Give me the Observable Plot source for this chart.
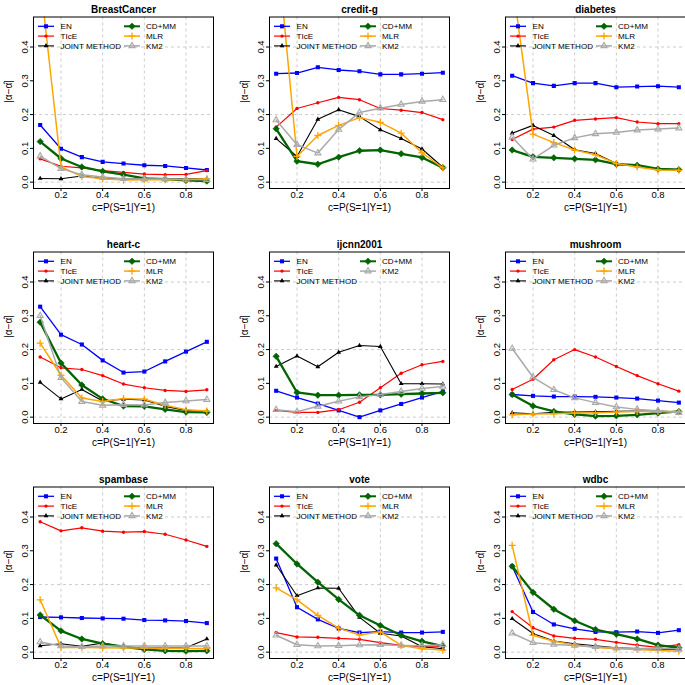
<!DOCTYPE html>
<html><head><meta charset="utf-8">
<script src="https://cdn.jsdelivr.net/npm/d3@7"></script>
<script src="https://cdn.jsdelivr.net/npm/@observablehq/plot@0.6"></script>
<style>
html,body{margin:0;padding:0;background:#fff;}
#chart{position:relative;width:685px;height:685px;overflow:hidden;background:#fff;}
.panel{position:absolute;}
</style></head><body><div id="chart"></div>
<script>
// ---- data ----
const cValues = [0.1, 0.2, 0.3, 0.4, 0.5, 0.6, 0.7, 0.8, 0.9];
const xTicks = [0.2, 0.4, 0.6, 0.8];
const yTicks = [0, 0.1, 0.2, 0.3, 0.4];
const yGrid = [0, 0.2, 0.4];
const xLabel = "c=P(S=1|Y=1)";
const yLabel = "|α−α̂|";
const methods = ["EN", "TIcE", "JOINT METHOD", "CD+MM", "MLR", "KM2"];

const breastCancer = {
  "EN":           [0.169, 0.099, 0.074, 0.060, 0.055, 0.050, 0.048, 0.042, 0.036],
  "TIcE":         [0.069, 0.047, 0.042, 0.034, 0.029, 0.024, 0.022, 0.023, 0.034],
  "JOINT METHOD": [0.011, 0.010, 0.018, 0.011, 0.009, 0.009, 0.009, 0.010, 0.010],
  "CD+MM":        [0.120, 0.070, 0.045, 0.032, 0.022, 0.011, 0.009, 0.005, 0.003],
  "MLR":          [0.600, 0.045, 0.017, 0.010, 0.006, 0.007, 0.007, 0.008, 0.010],
  "KM2":          [0.077, 0.040, 0.022, 0.015, 0.010, 0.009, 0.009, 0.008, 0.007]
};
const creditG = {
  "EN":           [0.321, 0.323, 0.340, 0.332, 0.328, 0.319, 0.319, 0.321, 0.324],
  "TIcE":         [0.163, 0.218, 0.235, 0.251, 0.244, 0.218, 0.213, 0.206, 0.185],
  "JOINT METHOD": [0.129, 0.076, 0.186, 0.214, 0.194, 0.155, 0.129, 0.098, 0.044],
  "CD+MM":        [0.158, 0.062, 0.053, 0.074, 0.093, 0.095, 0.084, 0.073, 0.043],
  "MLR":          [0.725, 0.076, 0.138, 0.168, 0.191, 0.177, 0.145, 0.087, 0.042],
  "KM2":          [0.184, 0.111, 0.086, 0.156, 0.206, 0.219, 0.230, 0.239, 0.244]
};
const diabetes = {
  "EN":           [0.315, 0.293, 0.285, 0.293, 0.293, 0.281, 0.283, 0.284, 0.281],
  "TIcE":         [0.126, 0.157, 0.163, 0.183, 0.187, 0.191, 0.178, 0.173, 0.173],
  "JOINT METHOD": [0.145, 0.168, 0.138, 0.096, 0.085, 0.055, 0.048, 0.039, 0.037],
  "CD+MM":        [0.095, 0.075, 0.072, 0.069, 0.066, 0.053, 0.050, 0.039, 0.037],
  "MLR":          [0.597, 0.142, 0.117, 0.095, 0.081, 0.055, 0.045, 0.036, 0.035],
  "KM2":          [0.133, 0.068, 0.109, 0.131, 0.143, 0.147, 0.154, 0.157, 0.160]
};
const heartC = {
  "EN":           [0.327, 0.244, 0.215, 0.168, 0.132, 0.135, 0.165, 0.194, 0.223],
  "TIcE":         [0.178, 0.146, 0.141, 0.123, 0.098, 0.087, 0.079, 0.076, 0.081],
  "JOINT METHOD": [0.103, 0.054, 0.082, 0.048, 0.053, 0.051, 0.032, 0.020, 0.017],
  "CD+MM":        [0.281, 0.160, 0.095, 0.054, 0.033, 0.032, 0.023, 0.015, 0.014],
  "MLR":          [0.219, 0.124, 0.057, 0.046, 0.055, 0.053, 0.035, 0.022, 0.018],
  "KM2":          [0.300, 0.117, 0.046, 0.035, 0.037, 0.036, 0.043, 0.048, 0.052]
};
const ijcnn2001 = {
  "EN":           [0.078, 0.058, 0.040, 0.020, 0.000, 0.020, 0.039, 0.058, 0.076],
  "TIcE":         [0.020, 0.014, 0.014, 0.022, 0.044, 0.087, 0.130, 0.155, 0.165],
  "JOINT METHOD": [0.150, 0.181, 0.149, 0.192, 0.212, 0.209, 0.099, 0.099, 0.098],
  "CD+MM":        [0.180, 0.073, 0.065, 0.065, 0.066, 0.066, 0.068, 0.070, 0.072],
  "KM2":          [0.022, 0.016, 0.032, 0.047, 0.060, 0.067, 0.076, 0.085, 0.091]
};
const mushroom = {
  "EN":           [0.067, 0.063, 0.061, 0.061, 0.060, 0.058, 0.055, 0.049, 0.043],
  "TIcE":         [0.082, 0.112, 0.170, 0.200, 0.178, 0.150, 0.123, 0.099, 0.077],
  "JOINT METHOD": [0.013, 0.010, 0.014, 0.015, 0.016, 0.017, 0.018, 0.018, 0.016],
  "CD+MM":        [0.067, 0.033, 0.017, 0.008, 0.003, 0.004, 0.007, 0.012, 0.017],
  "MLR":          [0.007, 0.009, 0.010, 0.012, 0.013, 0.015, 0.017, 0.017, 0.016],
  "KM2":          [0.203, 0.118, 0.081, 0.057, 0.043, 0.030, 0.023, 0.019, 0.013]
};
const spambase = {
  "EN":           [0.104, 0.103, 0.101, 0.100, 0.099, 0.095, 0.094, 0.092, 0.086],
  "TIcE":         [0.386, 0.359, 0.368, 0.358, 0.355, 0.357, 0.349, 0.332, 0.313],
  "JOINT METHOD": [0.019, 0.025, 0.017, 0.027, 0.016, 0.012, 0.012, 0.013, 0.039],
  "CD+MM":        [0.110, 0.063, 0.039, 0.025, 0.016, 0.008, 0.004, 0.003, 0.004],
  "MLR":          [0.155, 0.014, 0.014, 0.013, 0.012, 0.012, 0.011, 0.011, 0.011],
  "KM2":          [0.030, 0.018, 0.016, 0.018, 0.018, 0.018, 0.018, 0.018, 0.018]
};
const vote = {
  "EN":           [0.277, 0.133, 0.097, 0.070, 0.058, 0.061, 0.058, 0.058, 0.060],
  "TIcE":         [0.058, 0.045, 0.044, 0.041, 0.038, 0.028, 0.020, 0.016, 0.016],
  "JOINT METHOD": [0.258, 0.167, 0.190, 0.189, 0.103, 0.056, 0.048, 0.016, 0.010],
  "CD+MM":        [0.321, 0.261, 0.207, 0.156, 0.109, 0.079, 0.050, 0.032, 0.018],
  "MLR":          [0.190, 0.155, 0.109, 0.071, 0.051, 0.060, 0.020, 0.010, 0.006],
  "KM2":          [0.050, 0.022, 0.018, 0.019, 0.021, 0.022, 0.020, 0.019, 0.022]
};
const wdbc = {
  "EN":           [0.254, 0.119, 0.082, 0.069, 0.060, 0.059, 0.061, 0.057, 0.065],
  "TIcE":         [0.120, 0.072, 0.048, 0.041, 0.038, 0.029, 0.021, 0.014, 0.022],
  "JOINT METHOD": [0.099, 0.055, 0.033, 0.025, 0.019, 0.013, 0.011, 0.009, 0.008],
  "CD+MM":        [0.254, 0.177, 0.127, 0.093, 0.067, 0.053, 0.039, 0.021, 0.013],
  "MLR":          [0.316, 0.050, 0.032, 0.021, 0.014, 0.010, 0.008, 0.005, 0.003],
  "KM2":          [0.056, 0.028, 0.023, 0.020, 0.016, 0.012, 0.011, 0.011, 0.010]
};
const panelNames = ["BreastCancer", "credit-g", "diabetes", "heart-c", "ijcnn2001", "mushroom", "spambase", "vote", "wdbc"];
const panelData = [breastCancer, creditG, diabetes, heartC, ijcnn2001, mushroom, spambase, vote, wdbc];

// ---- styles ----
const styles = {
  "EN":           {color: "#0000FF", lw: 1.3, symbol: "square",   r: 2.3, fill: "#0000FF", stroke: "none",    sw: 0},
  "TIcE":         {color: "#FF0000", lw: 1.2, symbol: "circle",   r: 1.7, fill: "#FF0000", stroke: "none",    sw: 0},
  "JOINT METHOD": {color: "#000000", lw: 1.1, symbol: "triangle", r: 1.8, fill: "#000000", stroke: "none",    sw: 0},
  "CD+MM":        {color: "#006400", lw: 2.3, symbol: "diamond2", r: 2.9, fill: "#006400", stroke: "#006400", sw: 0.6},
  "MLR":          {color: "#FFA500", lw: 1.5, symbol: "plus",     r: 2.4, fill: "none",    stroke: "#FFA500", sw: 1.3},
  "KM2":          {color: "#A9A9A9", lw: 1.5, symbol: "triangle2",r: 2.9, fill: "none",    stroke: "#A9A9A9", sw: 1.1}
};
const d3Symbols = {square: d3.symbolSquare, circle: d3.symbolCircle, triangle: d3.symbolTriangle,
  diamond2: d3.symbolDiamond2, plus: d3.symbolPlus, triangle2: d3.symbolTriangle2};

const W = 236, H = 235;
const M = {left: 41, right: 15, top: 16.5, bottom: 47};
const FONT = "'Liberation Sans', Arial, Helvetica, sans-serif";
const chart = document.getElementById("chart");

panelData.forEach((vals, i) => {
  const row = Math.floor(i / 3), col = i % 3;
  const present = methods.filter(m => vals[m]);
  const marks = [
    Plot.ruleX(xTicks, {stroke: "#cccccc", strokeWidth: 1, strokeDasharray: "3,3"}),
    Plot.ruleY(yGrid, {stroke: "#cccccc", strokeWidth: 1, strokeDasharray: "3,3"})
  ];
  present.forEach(m => {
    const d = vals[m].map((v, j) => ({c: cValues[j], v, method: m}));
    const st = styles[m];
    marks.push(Plot.line(d, {x: "c", y: "v", stroke: st.color, strokeWidth: st.lw, clip: true}));
    marks.push(Plot.dot(d, {x: "c", y: "v", symbol: st.symbol, r: st.r, fill: st.fill,
      stroke: st.stroke, strokeWidth: st.sw, clip: true}));
  });
  marks.push(Plot.frame({stroke: "#000", strokeWidth: 1}));
  marks.push(Plot.text([panelNames[i]], {frameAnchor: "top", dy: -11.5, text: d => d,
    fontWeight: "bold", fontSize: 10}));
  marks.push(Plot.text([xLabel], {frameAnchor: "bottom", dy: 22, text: d => d, fontSize: 10}));
  marks.push(Plot.text([yLabel], {frameAnchor: "left", dx: -25, rotate: -90, text: d => d, fontSize: 10}));

  const plot = Plot.plot({
    width: W, height: H,
    marginLeft: M.left, marginRight: M.right, marginTop: M.top, marginBottom: M.bottom,
    style: {fontFamily: FONT, fontSize: "9.5px", background: "transparent", color: "#000"},
    x: {domain: [0.068, 0.932], ticks: xTicks, tickFormat: ".1f", tickSize: 3, tickPadding: 0, label: null},
    y: {domain: [-0.0188, 0.4888], ticks: yTicks, tickFormat: ".1f", tickSize: 3, tickPadding: 3,
        tickRotate: -90, label: null},
    marks
  });
  plot.classList.add("panel");
  plot.style.left = (-8 + col * 236) + "px";
  plot.style.top = (row * 235) + "px";
  plot.style.overflow = "visible";

  // legend (two columns, filled column-wise)
  const svg = d3.select(plot);
  const g = svg.append("g").attr("font-family", FONT).attr("font-size", 8.1).attr("text-anchor", "start");
  const colX = [{l0: 5, l1: 21, mk: 13, tx: 27.5}, {l0: 91, l1: 107, mk: 99, tx: 113}];
  const rowY = [9.8, 19.6, 29.4];
  present.forEach((m, k) => {
    const cx = colX[k < 3 ? 0 : 1], ry = M.top + rowY[k < 3 ? k : k - 3];
    const st = styles[m];
    g.append("line").attr("x1", M.left + cx.l0).attr("x2", M.left + cx.l1)
      .attr("y1", ry).attr("y2", ry).attr("stroke", st.color).attr("stroke-width", Math.min(st.lw, 2));
    g.append("path").attr("d", d3.symbol(d3Symbols[st.symbol], Math.PI * st.r * st.r)())
      .attr("transform", `translate(${M.left + cx.mk},${ry})`)
      .attr("fill", st.fill).attr("stroke", st.stroke).attr("stroke-width", st.sw);
    g.append("text").attr("x", M.left + cx.tx).attr("y", ry).attr("dy", "0.35em")
      .attr("text-anchor", "start").text(m);
  });
  chart.appendChild(plot);
});
</script></body></html>
